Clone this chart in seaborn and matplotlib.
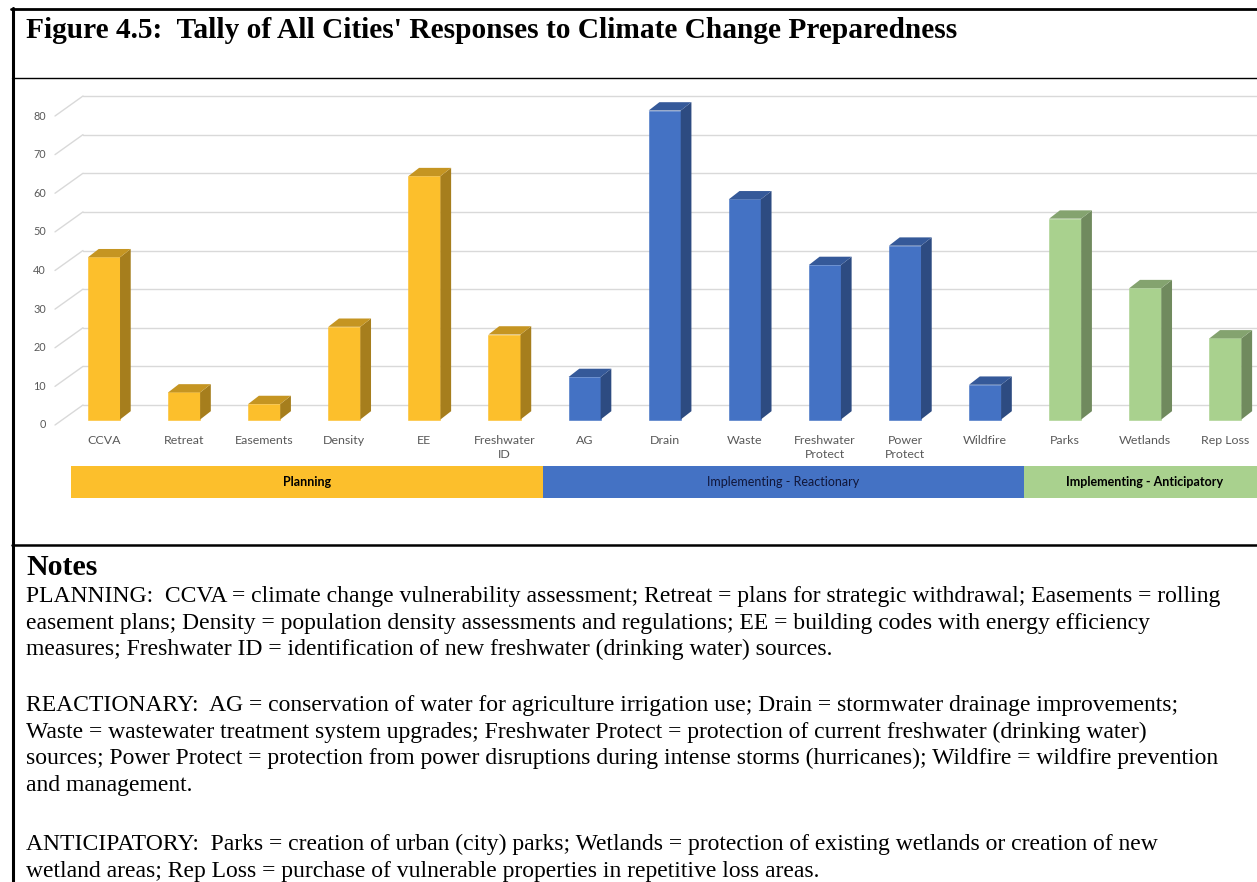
import matplotlib
matplotlib.use("Agg")
import matplotlib.pyplot as plt
from matplotlib.patches import Polygon, Rectangle
from matplotlib.lines import Line2D
import seaborn as sns
import pandas as pd

# ---- data -------------------------------------------------------------
measures = ["CCVA", "Retreat", "Easements", "Density", "EE", "Freshwater\nID",
            "AG", "Drain", "Waste", "Freshwater\nProtect", "Power\nProtect", "Wildfire",
            "Parks", "Wetlands", "Rep Loss"]
counts = [42, 7, 4, 24, 63, 22,
          11, 80, 57, 40, 45, 9,
          52, 34, 21]
groups = ["Planning"] * 6 + ["Implementing - Reactionary"] * 6 + ["Implementing - Anticipatory"] * 3
group_names = ["Planning", "Implementing - Reactionary", "Implementing - Anticipatory"]
group_colors = ["#FCBF2C", "#4472C4", "#A9D18E"]
yticks = [0, 10, 20, 30, 40, 50, 60, 70, 80]

title = "Figure 4.5:  Tally of All Cities' Responses to Climate Change Preparedness"
notes_heading = "Notes"
notes = [
    ["PLANNING:  CCVA = climate change vulnerability assessment; Retreat = plans for strategic withdrawal; Easements = rolling",
     "easement plans; Density = population density assessments and regulations; EE = building codes with energy efficiency",
     "measures; Freshwater ID = identification of new freshwater (drinking water) sources."],
    ["REACTIONARY:  AG = conservation of water for agriculture irrigation use; Drain = stormwater drainage improvements;",
     "Waste = wastewater treatment system upgrades; Freshwater Protect = protection of current freshwater (drinking water)",
     "sources; Power Protect = protection from power disruptions during intense storms (hurricanes); Wildfire = wildfire prevention",
     "and management."],
    ["ANTICIPATORY:  Parks = creation of urban (city) parks; Wetlands = protection of existing wetlands or creation of new",
     "wetland areas; Rep Loss = purchase of vulnerable properties in repetitive loss areas."],
]

df = pd.DataFrame({"measure": measures, "count": counts, "group": groups})
palette = dict(zip(group_names, group_colors))

# ---- figure -----------------------------------------------------------
W, H = 1257, 882
sns.set_theme(style="white")
plt.rcParams["font.family"] = ["Lato", "DejaVu Sans"]
fig = plt.figure(figsize=(W / 100, H / 100), dpi=100)
fig.patch.set_facecolor("white")

# chart axes occupying the middle panel
ax_l, ax_r, ax_t, ax_b = 14, 1257, 78, 544
ax = fig.add_axes([ax_l / W, 1 - ax_b / H, (ax_r - ax_l) / W, (ax_b - ax_t) / H])

sns.barplot(data=df, x="measure", y="count", hue="group", palette=palette,
            order=measures, hue_order=group_names, dodge=False, width=0.4,
            saturation=1, legend=False, ax=ax, zorder=3)

# pixel-like scale: 80.1 px per category, 3.8625 px per unit
px_x, px_y = 80.1, 3.8625
x0_px, y0_px = 104, 419.5
ax.set_xlim((ax_l - x0_px) / px_x, (ax_r - x0_px) / px_x)
ax.set_ylim((y0_px - ax_b) / px_y, (y0_px - ax_t) / px_y)
ax.set_axis_off()

# depth of the 3D look
back_x, back_dy = -21 / px_x, 14.5 / px_y      # back wall corner / offset from bar front
front_x, front_dy = -49 / px_x, -5.5 / px_y    # front edge of the side wall
bar_dx, bar_dy = 10.7 / px_x, 8.3 / px_y       # bar depth

grid_col = "#D9D9D9"
x_right = ax.get_xlim()[1]
for t in yticks:
    ax.add_line(Line2D([back_x, x_right], [t + back_dy, t + back_dy],
                       color=grid_col, lw=1.0, zorder=0))
    ax.add_line(Line2D([front_x, back_x], [t + front_dy, t + back_dy],
                       color=grid_col, lw=1.0, zorder=0))
    ax.text(-0.724, t + front_dy, str(t), ha="right", va="center",
            fontsize=7.8, color="#595959")


def shade(c, f):
    r, g, b = matplotlib.colors.to_rgb(c)
    return (r * f, g * f, b * f)


for p in ax.patches[:]:
    if p.get_height() <= 0:
        continue
    x, w, h = p.get_x(), p.get_width(), p.get_height()
    fc = p.get_facecolor()
    p.set_edgecolor(shade(fc, 1.0))
    p.set_linewidth(0.4)
    side = Polygon([(x + w, 0), (x + w, h), (x + w + bar_dx, h + bar_dy), (x + w + bar_dx, bar_dy)],
                   closed=True, facecolor=shade(fc, 0.66), edgecolor="none", zorder=3)
    top = Polygon([(x, h), (x + w, h), (x + w + bar_dx, h + bar_dy), (x + bar_dx, h + bar_dy)],
                  closed=True, facecolor=shade(fc, 0.78), edgecolor="none", zorder=3)
    ax.add_patch(side)
    ax.add_patch(top)

# category labels
for i, m in enumerate(measures):
    ax.text(i, (y0_px - 435) / px_y, m, ha="center", va="top", fontsize=8.9,
            color="#595959", linespacing=1.3)

# group band
band_top, band_bot = (y0_px - 466) / px_y, (y0_px - 498) / px_y
start = -0.41
idx = 0
for gi, g in enumerate(group_names):
    n = groups.count(g)
    idx += n
    end = idx - 0.52 if gi < len(group_names) - 1 else idx - 0.5
    ax.add_patch(Rectangle((start, band_bot), end - start, band_top - band_bot,
                           facecolor=group_colors[gi], edgecolor="none", zorder=2,
                           clip_on=True))
    bold = gi != 1
    ax.text((start + end) / 2, (band_top + band_bot) / 2, g, ha="center", va="center",
            fontsize=9.0, fontweight="bold" if bold else "normal",
            color="black" if bold else "#10163A")
    start = end

# ---- frame lines ------------------------------------------------------
def hline(y, x1, x2, lw):
    fig.add_artist(Line2D([x1 / W, x2 / W], [1 - y / H, 1 - y / H],
                          color="black", lw=lw, transform=fig.transFigure))

hline(9, 11, W, 2.0)
hline(77.5, 12, W, 1.0)
hline(545, 12, W, 1.8)
fig.add_artist(Line2D([12.5 / W, 12.5 / W], [1 - 8 / H, 0], color="black", lw=2.2,
                      transform=fig.transFigure))

# ---- title and notes --------------------------------------------------
serif = ["Liberation Serif", "DejaVu Serif"]
fig.text(26 / W, 1 - 38 / H, title, family=serif, fontweight="bold", fontsize=21.2,
         ha="left", va="baseline", color="black")
fig.text(26 / W, 1 - 575 / H, notes_heading, family=serif, fontweight="bold",
         fontsize=21.5, ha="left", va="baseline", color="black")

para_start = [602, 711, 850]
line_gap = 26.6
for start_y, para in zip(para_start, notes):
    for k, line in enumerate(para):
        fig.text(26 / W, 1 - (start_y + k * line_gap) / H, line, family=serif,
                 fontsize=17.0, ha="left", va="baseline", color="black")

fig.savefig("out.png", dpi=100, facecolor="white")
